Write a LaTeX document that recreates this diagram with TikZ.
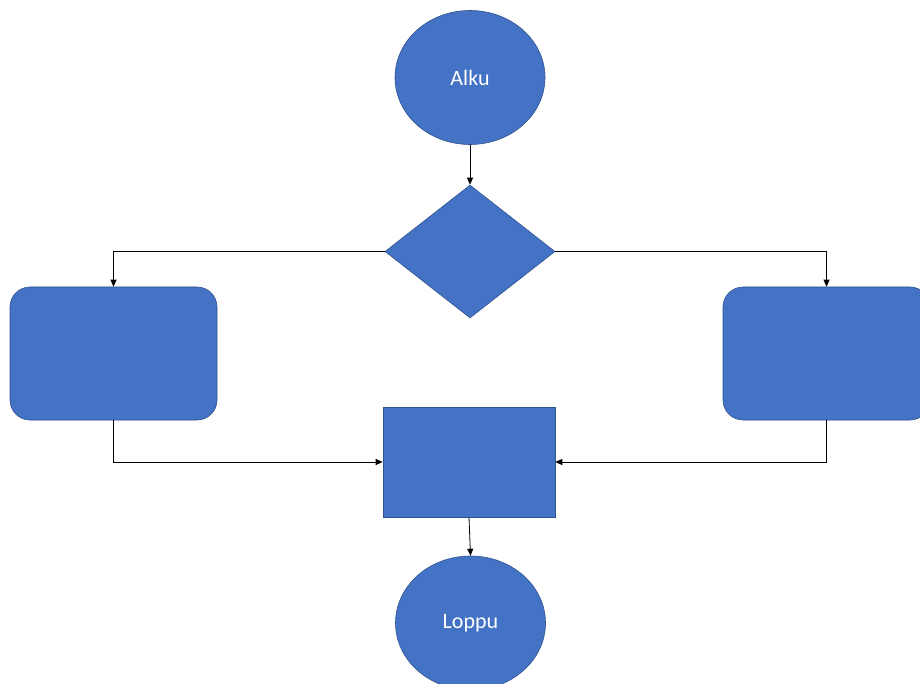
\documentclass[tikz,border=0pt]{standalone}
\usepackage{fontspec}
\setmainfont{Carlito}
\usetikzlibrary{shapes.geometric,arrows.meta}
\definecolor{shapefill}{HTML}{4472C4}
\definecolor{shapeline}{HTML}{2F528F}
\begin{document}
\begin{tikzpicture}[x=1pt,y=-1pt,
  shapebase/.style={fill=shapefill,draw=shapeline,line width=0.6pt,inner sep=0pt,
    text=white,font=\fontsize{22}{26}\selectfont},
  terminal/.style={shapebase,ellipse,minimum width=150pt,minimum height=134pt},
  decision/.style={shapebase,diamond,minimum width=170pt,minimum height=133pt,aspect=1.28},
  roundbox/.style={shapebase,rectangle,rounded corners=20pt,minimum width=207pt,minimum height=133pt},
  process/.style={shapebase,rectangle,minimum width=172pt,minimum height=110pt},
  flow/.style={draw=black,line width=0.8pt,-{Triangle[length=7pt,width=6pt]}}]
\useasboundingbox (0,0) rectangle (920,684);
\clip (0,0) rectangle (920,684);
\fill[white] (0,0) rectangle (920,684);

% shapes
\node[terminal] (start) at (470,77.5) {Alku};
\node[decision] (choice) at (470,251.5) {};
\node[roundbox] (left) at (113.5,353.5) {};
\node[roundbox] (right) at (826.5,353.5) {};
\node[process] (merge) at (469,462) {};
\node[terminal] (stop) at (470.5,623) {Loppu};

% connectors
\draw[flow] (start.south) -- (choice.north);
\draw[flow] (choice.west) -| (left.north);
\draw[flow] (choice.east) -| (right.north);
\draw[flow] (left.south) |- (merge.west);
\draw[flow] (right.south) |- (merge.east);
\draw[flow] (merge.south) -- (stop.north);
\end{tikzpicture}
\end{document}
